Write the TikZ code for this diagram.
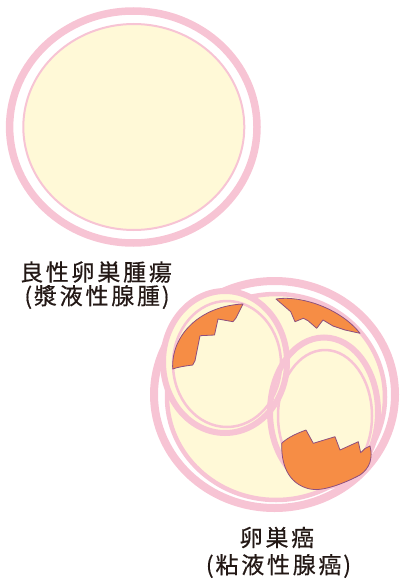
\documentclass[tikz,border=0pt]{standalone}
\usepackage{fontspec}
\newfontfamily\jpfont[LetterSpace=12, FakeBold=0.5]{Noto Sans CJK JP}
\newcommand{\lpar}{(\kern1.8pt}
\newcommand{\rpar}{\kern1.8pt)}

\definecolor{ringpink}{HTML}{F7C4D4}
\definecolor{cystfill}{HTML}{FFF9D7}
\definecolor{tumor}{HTML}{F68D45}
\definecolor{tumorline}{HTML}{8E4F7F}
\definecolor{ink}{HTML}{231815}

\tikzset{
  wall/.style={draw=ringpink, line width=#1},
  cyst/.style={fill=cystfill, draw=ringpink, line width=#1},
  growth/.style={fill=tumor, draw=tumorline, line width=0.8pt, line join=round},
  label/.style={text=ink, font=\jpfont\fontsize{23}{26}\selectfont, inner sep=0pt, anchor=center}
}

\begin{document}
\begin{tikzpicture}[x=1pt, y=-1pt]
\useasboundingbox (0,0) rectangle (404,583);

% benign cyst: outer capsule and single smooth chamber
\draw[wall=7.5pt] (133.3,127) ellipse [x radius=123.7, y radius=116];
\draw[cyst=2pt] (133.8,127) ellipse [x radius=110.5, y radius=103];

\node[label] (benign) at (96,272) {良性卵巣腫瘍};
\node[label] (benignsub) at (97,297) {\lpar 漿液性腺腫\rpar};

% malignant cyst: capsule, main chamber, two daughter loculi
\draw[wall=8pt] (274.5,394.5) ellipse [x radius=120.5, y radius=113.5];
\draw[cyst=4.5pt] (276,397) ellipse [x radius=109, y radius=103];

\fill[cystfill] (225,362) ellipse [x radius=62, y radius=71];
\fill[cystfill] (324,412) ellipse [x radius=54, y radius=74.5];

\draw[wall=6pt] (225,362) ellipse [x radius=62, y radius=71];
\draw[wall=2.5pt] (227,364) ellipse [x radius=54, y radius=63];
\draw[wall=6pt] (324,412) ellipse [x radius=54, y radius=74.5];
\draw[wall=2.5pt] (325,416) ellipse [x radius=47, y radius=66];

% solid growths on the inner walls
\draw[growth] (172.7,369) .. controls (171,335) and (200,306) .. (243,304)
  -- (236,318) -- (233,321.7) -- (218,319) -- (214.5,335) -- (200,335.7)
  -- (195,360.7) -- (192.7,365) .. controls (185,366) and (178,367) .. cycle;

\draw[growth] (276,299) .. controls (300,295) and (340,308) .. (360,333.3)
  -- (345,330) -- (333,326) -- (323,320) -- (316.7,328.3) -- (308,320.7)
  -- (303.3,318.3) -- (295,321.7) -- (290.7,311.7) -- cycle;

\draw[growth] (281.7,443.3) .. controls (288,437) and (298,433) .. (306,430)
  -- (313.3,443.3) -- (335,436.7) -- (340,450) -- (358.3,441.7)
  -- (360.7,452.7) -- (365,448.5) -- (370,446)
  .. controls (373,458) and (370,468) .. (360,475)
  .. controls (345,483) and (322,492) .. (310,489)
  .. controls (292,485) and (281,470) .. cycle;

\node[label] (malig) at (277,537.5) {卵巣癌};
\node[label] (maligsub) at (278.5,566) {\lpar 粘液性腺癌\rpar};

\end{tikzpicture}
\end{document}
